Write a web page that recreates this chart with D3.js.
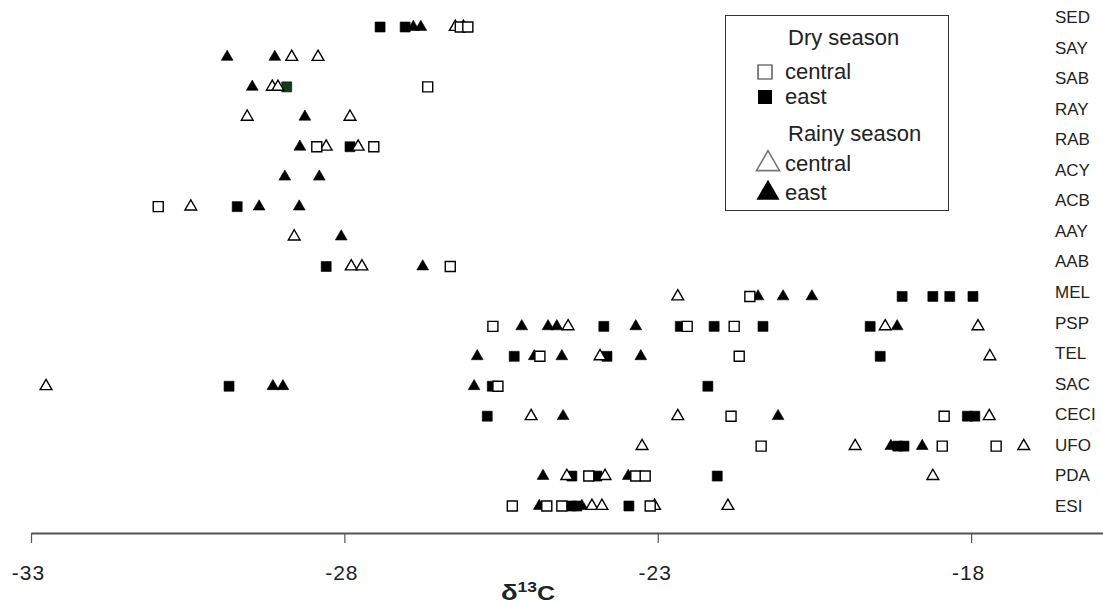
<!DOCTYPE html>
<html>
<head>
<meta charset="utf-8">
<script src="https://cdn.jsdelivr.net/npm/d3@7"></script>
<style>
  html, body { margin: 0; padding: 0; background: #fff; }
  svg { display: block; font-family: "Liberation Sans", Arial, sans-serif; }
</style>
</head>
<body>
<svg id="chart" width="1103" height="605"></svg>
<script>
// Sampling sites, top to bottom
const sites = ["SED","SAY","SAB","RAY","RAB","ACY","ACB","AAY","AAB",
               "MEL","PSP","TEL","SAC","CECI","UFO","PDA","ESI"];

// δ13C values (‰) per site: [site, value]
const dryCentral = [
  ["SED",-26.15],["SED",-26.03],["SAB",-26.67],["RAB",-28.44],["RAB",-27.53],
  ["ACB",-30.97],["AAB",-26.31],["MEL",-21.53],
  ["PSP",-25.63],["PSP",-22.53],["PSP",-21.78],
  ["TEL",-24.88],["TEL",-21.70],["SAC",-25.55],
  ["CECI",-21.83],["CECI",-18.43],
  ["UFO",-21.35],["UFO",-18.46],["UFO",-17.60],
  ["PDA",-24.10],["PDA",-23.35],["PDA",-23.20],
  ["ESI",-25.32],["ESI",-24.77],["ESI",-24.53],["ESI",-23.12]
];
const dryEast = [
  ["SED",-27.43],["SED",-27.03],["SAB",-28.92],["RAB",-27.91],["ACB",-29.71],["AAB",-28.29],
  ["MEL",-19.10],["MEL",-18.61],["MEL",-18.34],["MEL",-17.97],
  ["PSP",-23.86],["PSP",-22.64],["PSP",-22.10],["PSP",-21.32],["PSP",-19.61],
  ["TEL",-25.29],["TEL",-23.81],["TEL",-19.45],
  ["SAC",-29.84],["SAC",-25.64],["SAC",-22.20],
  ["CECI",-25.72],["CECI",-18.06],["CECI",-17.94],
  ["UFO",-19.17],["UFO",-19.07],
  ["PDA",-24.37],["PDA",-23.97],["PDA",-22.05],
  ["ESI",-24.37],["ESI",-24.29],["ESI",-23.46]
];
const rainyCentral = [
  ["SED",-26.23],["SED",-26.10],["SAY",-28.84],["SAY",-28.42],
  ["SAB",-29.15],["SAB",-29.06],["RAY",-29.55],["RAY",-27.91],
  ["RAB",-28.29],["RAB",-27.78],["ACB",-30.45],["AAY",-28.80],
  ["AAB",-27.89],["AAB",-27.72],["MEL",-22.68],
  ["PSP",-24.43],["PSP",-19.37],["PSP",-17.89],
  ["TEL",-23.92],["TEL",-17.70],["SAC",-32.76],
  ["CECI",-25.02],["CECI",-22.68],["CECI",-17.71],
  ["UFO",-23.25],["UFO",-19.85],["UFO",-17.16],
  ["PDA",-24.45],["PDA",-23.84],["PDA",-18.61],
  ["ESI",-24.05],["ESI",-23.89],["ESI",-23.05],["ESI",-21.88]
];
const rainyEast = [
  ["SED",-26.90],["SED",-26.78],["SAY",-29.87],["SAY",-29.11],["SAB",-29.47],
  ["RAY",-28.63],["RAB",-28.71],["ACY",-28.95],["ACY",-28.40],
  ["ACB",-29.36],["ACB",-28.72],["AAY",-28.05],["AAB",-26.75],
  ["MEL",-21.40],["MEL",-21.00],["MEL",-20.54],
  ["PSP",-25.17],["PSP",-24.75],["PSP",-24.61],["PSP",-23.35],["PSP",-19.18],
  ["TEL",-25.88],["TEL",-24.97],["TEL",-24.53],["TEL",-23.27],
  ["SAC",-29.14],["SAC",-28.98],["SAC",-25.93],
  ["CECI",-24.51],["CECI",-21.08],
  ["UFO",-19.28],["UFO",-18.78],
  ["PDA",-24.83],["PDA",-23.47],
  ["ESI",-24.89],["ESI",-24.21]
];
const xTicks = [-33, -28, -23, -18];

const svg = d3.select("#chart");

const x = d3.scaleLinear().domain([-33, -15.9]).range([31, 1102.7]);
const y = d3.scalePoint().domain(sites).range([27, 506]);
const yLabel = d3.scalePoint().domain(sites).range([17, 506]);

// x axis
const axisY = 533;
const xAxis = svg.append("g")
  .attr("transform", `translate(0,${axisY})`)
  .call(d3.axisBottom(x).tickValues(xTicks).tickSize(10).tickSizeOuter(0).tickPadding(22)
        .tickFormat(d => d3.format("d")(d).replace("\u2212", "-")));
xAxis.select(".domain").attr("stroke", "#555").attr("stroke-width", 2);
xAxis.selectAll(".tick line").attr("stroke", "#555").attr("stroke-width", 1.2);
xAxis.selectAll(".tick text").attr("fill", "#222").attr("font-size", 21)
  .attr("letter-spacing", 1).attr("dx", -3);

// axis title δ13C
const title = svg.append("text")
  .attr("transform", "translate(528,600) scale(1.25,1)")
  .attr("text-anchor", "middle").attr("font-weight", "bold").attr("font-size", 20)
  .attr("fill", "#222");
title.append("tspan").attr("font-size", 22).text("δ");
title.append("tspan").attr("font-size", 14).attr("dy", -8).text("13");
title.append("tspan").attr("dy", 8).text("C");

// site labels on the right
svg.append("g").selectAll("text").data(sites).join("text")
  .attr("x", 1055).attr("y", d => yLabel(d)).attr("dy", "0.35em")
  .attr("font-size", 17).attr("fill", "#222").text(d => d);

const sq = d3.symbol(d3.symbolSquare, 100)();
const tri = d3.symbol(d3.symbolTriangle, 60)();

function plot(data, path, fill, stroke, cls, specialFill) {
  svg.append("g").attr("class", cls).selectAll("path").data(data).join("path")
    .attr("d", path)
    .attr("transform", d => `translate(${x(d[1])},${y(d[0])})`)
    .attr("fill", d => (specialFill && specialFill[d[0]]) || fill)
    .attr("stroke", stroke).attr("stroke-width", fill === "#fff" ? 1.4 : 0.6);
}

// dry east in SAB is shown in dark green
plot(dryEast, sq, "#000", "#000", "dry-east", { SAB: "#173b17" });
plot(rainyEast, tri, "#000", "#000", "rainy-east");
plot(rainyCentral, tri, "#fff", "#000", "rainy-central");
plot(dryCentral, sq, "#fff", "#000", "dry-central");

// legend
const lg = svg.append("g");
lg.append("rect").attr("x", 725.5).attr("y", 15.5).attr("width", 223).attr("height", 195)
  .attr("fill", "#fff").attr("stroke", "#333").attr("stroke-width", 1);
const lgText = (t, tx, ty) => lg.append("text").attr("x", tx).attr("y", ty).attr("dy", "0.35em")
  .attr("font-size", 22).attr("fill", "#222").text(t);
lgText("Dry season", 788, 37);
lgText("central", 785, 71);
lgText("east", 785, 96);
lgText("Rainy season", 788, 133);
lgText("central", 785, 163);
lgText("east", 785, 192);
lg.append("path").attr("d", d3.symbol(d3.symbolSquare, 196)())
  .attr("transform", "translate(765,72)").attr("fill", "#fff").attr("stroke", "#333").attr("stroke-width", 1.2);
lg.append("path").attr("d", d3.symbol(d3.symbolSquare, 196)())
  .attr("transform", "translate(765,97)").attr("fill", "#000");
lg.append("path").attr("d", d3.symbol(d3.symbolTriangle, 230)())
  .attr("transform", "translate(768,164)").attr("fill", "#fff").attr("stroke", "#777").attr("stroke-width", 1.6);
lg.append("path").attr("d", d3.symbol(d3.symbolTriangle, 230)())
  .attr("transform", "translate(768,193)").attr("fill", "#000");
</script>
</body>
</html>
